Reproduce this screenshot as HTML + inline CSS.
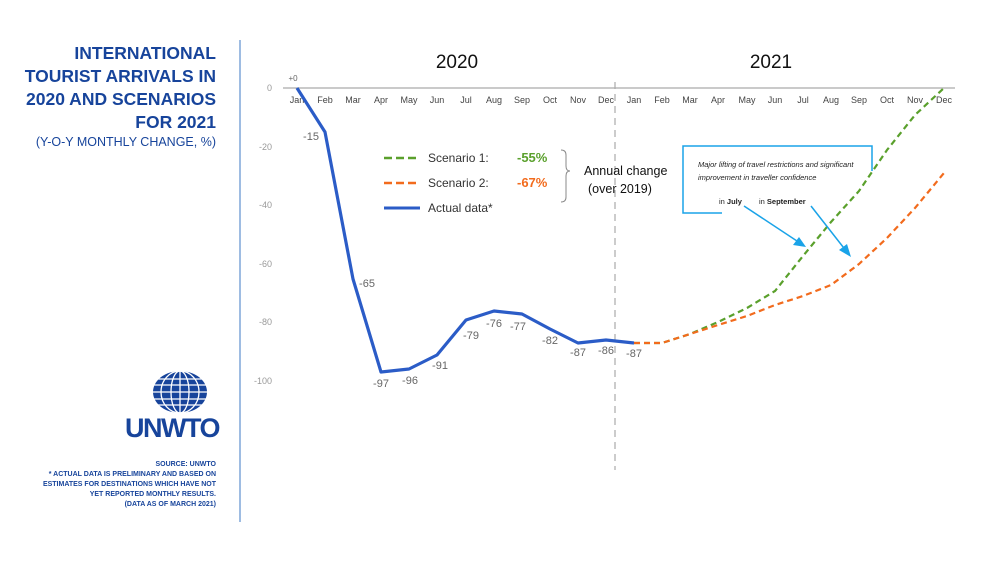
<!DOCTYPE html>
<html><head><style>
body{margin:0;width:1000px;height:563px;background:#fff;overflow:hidden;font-family:"Liberation Sans",sans-serif}
</style></head><body>
<svg width="1000" height="563" xmlns="http://www.w3.org/2000/svg" font-family="Liberation Sans, sans-serif">
<g fill="#17449b" font-weight="bold" font-size="17.5" text-anchor="end">
<text x="216" y="59">INTERNATIONAL</text>
<text x="216" y="82">TOURIST ARRIVALS IN</text>
<text x="216" y="105">2020 AND SCENARIOS</text>
<text x="216" y="128">FOR 2021</text>
</g>
<text x="216" y="146" fill="#17449b" font-size="12.5" text-anchor="end">(Y-O-Y MONTHLY CHANGE, %)</text>
<line x1="240" y1="40" x2="240" y2="522" stroke="#7ea6d8" stroke-width="1.5"/>
<!-- logo -->
<g transform="translate(180,392)" fill="none" stroke="#17449b">
<ellipse rx="27" ry="21" fill="#17449b" stroke="none"/>
<g stroke="#fff" stroke-width="1.3">
<ellipse rx="9" ry="21"/><ellipse rx="19" ry="21"/><line x1="0" y1="-21" x2="0" y2="21"/>
<line x1="-26" y1="-7" x2="26" y2="-7"/><line x1="-27" y1="0" x2="27" y2="0"/><line x1="-26" y1="7" x2="26" y2="7"/>
<line x1="-22" y1="-13" x2="22" y2="-13"/><line x1="-22" y1="13" x2="22" y2="13"/></g></g>
<text x="172" y="437" fill="#17449b" font-size="27" font-weight="bold" text-anchor="middle" letter-spacing="-1.5">UNWTO</text>
<g fill="#17449b" font-size="7" font-weight="bold" text-anchor="end">
<text x="216" y="466">SOURCE: UNWTO</text>
<text x="216" y="476">* ACTUAL DATA IS PRELIMINARY AND BASED ON</text>
<text x="216" y="486">ESTIMATES FOR DESTINATIONS WHICH HAVE NOT</text>
<text x="216" y="496">YET REPORTED MONTHLY RESULTS.</text>
<text x="216" y="506">(DATA AS OF MARCH 2021)</text>
</g>
<!-- axes -->
<text x="457" y="68" font-size="19" text-anchor="middle" fill="#111">2020</text>
<text x="771" y="68" font-size="19" text-anchor="middle" fill="#111">2021</text>
<line x1="283" y1="88" x2="955" y2="88" stroke="#aaa" stroke-width="1.2"/>
<g fill="#999" font-size="9" text-anchor="end">
<text x="272" y="91">0</text><text x="272" y="150">-20</text><text x="272" y="208">-40</text>
<text x="272" y="267">-60</text><text x="272" y="325">-80</text><text x="272" y="384">-100</text></g>
<g fill="#444" font-size="9" text-anchor="middle">
<text x="297" y="103">Jan</text><text x="325" y="103">Feb</text><text x="353" y="103">Mar</text><text x="381" y="103">Apr</text><text x="409" y="103">May</text><text x="437" y="103">Jun</text><text x="466" y="103">Jul</text><text x="494" y="103">Aug</text><text x="522" y="103">Sep</text><text x="550" y="103">Oct</text><text x="578" y="103">Nov</text><text x="606" y="103">Dec</text>
<text x="634" y="103">Jan</text><text x="662" y="103">Feb</text><text x="690" y="103">Mar</text><text x="718" y="103">Apr</text><text x="747" y="103">May</text><text x="775" y="103">Jun</text><text x="803" y="103">Jul</text><text x="831" y="103">Aug</text><text x="859" y="103">Sep</text><text x="887" y="103">Oct</text><text x="915" y="103">Nov</text><text x="944" y="103">Dec</text></g>
<line x1="615" y1="82" x2="615" y2="470" stroke="#aaa" stroke-dasharray="7,5" stroke-width="1.2"/>
<!-- scenarios -->
<polyline fill="none" stroke="#5aa02c" stroke-width="2.2" stroke-dasharray="6,4" points="634,343 662,343 690,334 718,322 747,308 775,291 803,256 831,222 859,191 887,150 915,115 944,88"/>
<polyline fill="none" stroke="#f26b1d" stroke-width="2.2" stroke-dasharray="6,4" points="634,343 662,343 690,334 718,325 747,316 775,305 803,296 831,285 859,264 887,238 915,208 944,173"/>
<polyline fill="none" stroke="#2b5cc7" stroke-width="3.2" stroke-linejoin="round" points="297,88 325,132 353,279 381,372 409,369 437,355 466,320 494,311 522,314 550,329 578,343 606,340 634,343"/>
<g fill="#666" font-size="11" text-anchor="middle">
<text x="293" y="81" font-size="8">+0</text><text x="311" y="140">-15</text><text x="367" y="287">-65</text><text x="381" y="387">-97</text><text x="410" y="384">-96</text><text x="440" y="369">-91</text><text x="471" y="339">-79</text><text x="494" y="327">-76</text><text x="518" y="330">-77</text><text x="550" y="344">-82</text><text x="578" y="356">-87</text><text x="606" y="354">-86</text><text x="634" y="357">-87</text></g>
<!-- legend -->
<line x1="384" y1="158" x2="420" y2="158" stroke="#5aa02c" stroke-width="2.5" stroke-dasharray="8,4"/>
<line x1="384" y1="183" x2="420" y2="183" stroke="#f26b1d" stroke-width="2.5" stroke-dasharray="8,4"/>
<line x1="384" y1="208" x2="420" y2="208" stroke="#2b5cc7" stroke-width="3"/>
<g font-size="12" fill="#333"><text x="428" y="162">Scenario 1:</text><text x="428" y="187">Scenario 2:</text><text x="428" y="212">Actual data*</text></g>
<text x="517" y="162" font-size="13" fill="#5aa02c" font-weight="bold">-55%</text>
<text x="517" y="187" font-size="13" fill="#f26b1d" font-weight="bold">-67%</text>
<path d="M561,150 q5,0 5,5 v11 q0,5 4,5 q-4,0 -4,5 v21 q0,5 -5,5" fill="none" stroke="#888"/>
<text x="584" y="175" font-size="12.5" fill="#111">Annual change</text>
<text x="588" y="193" font-size="12.5" fill="#111">(over 2019)</text>
<!-- annotation -->
<path d="M722,213 H683 V146 H872 V171" fill="none" stroke="#1aa3e8" stroke-width="1.5"/>
<text x="698" y="167" font-size="7.5" fill="#222" font-style="italic">Major lifting of travel restrictions and significant</text>
<text x="698" y="180" font-size="7.5" fill="#222" font-style="italic">improvement in traveller confidence</text>
<text x="719" y="204" font-size="7.5" fill="#222">in <tspan font-weight="bold">July</tspan></text>
<text x="759" y="204" font-size="7.5" fill="#222">in <tspan font-weight="bold">September</tspan></text>
<line x1="744" y1="206" x2="800" y2="243" stroke="#1aa3e8" stroke-width="1.5"/>
<polygon points="806,247 793,245 799,237" fill="#1aa3e8"/>
<line x1="811" y1="206" x2="847" y2="252" stroke="#1aa3e8" stroke-width="1.5"/>
<polygon points="851,257 839,250 847,244" fill="#1aa3e8"/>
</svg>
</body></html>
